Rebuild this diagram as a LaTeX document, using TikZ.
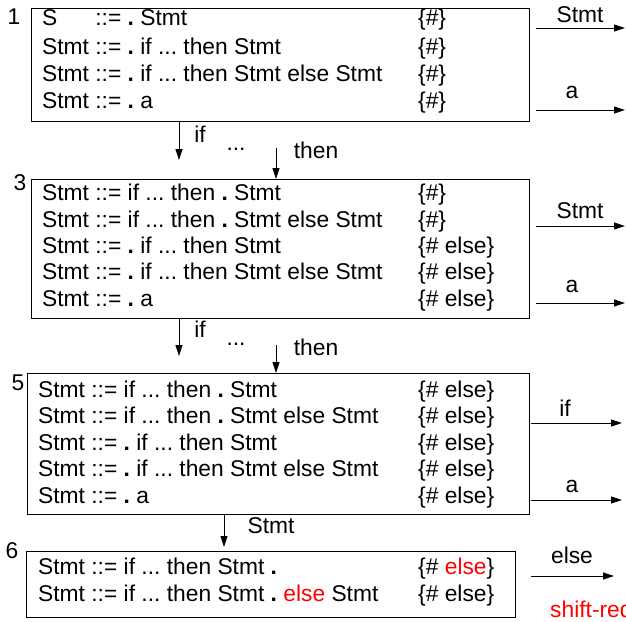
\documentclass[tikz,border=0pt]{standalone}
\usepackage{fontspec}
\setmainfont{Liberation Sans}
\usetikzlibrary{arrows.meta}
\usepackage{calc}
\frenchspacing
\newcommand{\dt}{\textbf{.}}
\newcommand{\Sbox}{\makebox[\widthof{Stmt}][l]{S}}
\begin{document}
\begin{tikzpicture}[x=1pt,y=-1pt,
  font=\fontsize{22.8}{26}\selectfont\frenchspacing,
  box/.style={draw, line width=0.8pt, inner sep=0pt, anchor=north west},
  txt/.style={anchor=base west, inner sep=0pt},
  lbl/.style={anchor=base, inner sep=0pt},
  arr/.style={-{Triangle[length=11pt,width=7pt]}, line width=0.8pt}]
\clip (0,0) rectangle (626,621);
% boxes
\node[box, minimum width=498pt, minimum height=113pt] (b1) at (31,8) {};
\node[box, minimum width=498pt, minimum height=139pt] (b3) at (31,179) {};
\node[box, minimum width=502pt, minimum height=141pt] (b5) at (27,373) {};
\node[box, minimum width=489pt, minimum height=66pt] (b6) at (26,551) {};
% state numbers
\node[lbl] (n1) at (14,24) {1};
\node[lbl] (n3) at (20,190) {3};
\node[lbl] (n5) at (18,390) {5};
\node[lbl] (n6) at (12,558) {6};
% box 1
\node[txt] (r11) at (42,25) {\Sbox{} ::= \dt{} Stmt};
\node[txt] (r12) at (42,54) {Stmt ::= \dt{} if ... then Stmt};
\node[txt] (r13) at (42,81) {Stmt ::= \dt{} if ... then Stmt else Stmt};
\node[txt] (r14) at (42,108) {Stmt ::= \dt{} a};
\node[txt] (l11) at (418,25) {\{\#\}};
\node[txt] (l12) at (418,54) {\{\#\}};
\node[txt] (l13) at (418,81) {\{\#\}};
\node[txt] (l14) at (418,108) {\{\#\}};
% box 3
\node[txt] (r31) at (42,200) {Stmt ::= if ... then \dt{} Stmt};
\node[txt] (r32) at (42,227) {Stmt ::= if ... then \dt{} Stmt else Stmt};
\node[txt] (r33) at (42,253) {Stmt ::= \dt{} if ... then Stmt};
\node[txt] (r34) at (42,279) {Stmt ::= \dt{} if ... then Stmt else Stmt};
\node[txt] (r35) at (42,306) {Stmt ::= \dt{} a};
\node[txt] (l31) at (418,200) {\{\#\}};
\node[txt] (l32) at (418,227) {\{\#\}};
\node[txt] (l33) at (418,253) {\{\# else\}};
\node[txt] (l34) at (418,279) {\{\# else\}};
\node[txt] (l35) at (418,306) {\{\# else\}};
% box 5
\node[txt] (r51) at (38,397) {Stmt ::= if ... then \dt{} Stmt};
\node[txt] (r52) at (38,423) {Stmt ::= if ... then \dt{} Stmt else Stmt};
\node[txt] (r53) at (38,450) {Stmt ::= \dt{} if ... then Stmt};
\node[txt] (r54) at (38,476) {Stmt ::= \dt{} if ... then Stmt else Stmt};
\node[txt] (r55) at (38,503) {Stmt ::= \dt{} a};
\node[txt] (l51) at (418,397) {\{\# else\}};
\node[txt] (l52) at (418,423) {\{\# else\}};
\node[txt] (l53) at (418,450) {\{\# else\}};
\node[txt] (l54) at (418,476) {\{\# else\}};
\node[txt] (l55) at (418,503) {\{\# else\}};
% box 6
\node[txt] (r61) at (38,574) {Stmt ::= if ... then Stmt \dt};
\node[txt] (r62) at (38,601) {Stmt ::= if ... then Stmt \dt{} \textcolor{red}{else} Stmt};
\node[txt] (l61) at (418,574) {\{\# \textcolor{red}{else}\}};
\node[txt] (l62) at (418,601) {\{\# else\}};
% right arrows
\coordinate (e11) at (625,28);
\coordinate (e12) at (625,110);
\coordinate (e31) at (625,226);
\coordinate (e32) at (625,303);
\coordinate (e51) at (622,423);
\coordinate (e52) at (622,500);
\coordinate (e61) at (614,576);
\draw[arr, shorten <=6pt] (b1.east |- e11) -- (e11);
\draw[arr, shorten <=6pt] (b1.east |- e12) -- (e12);
\draw[arr, shorten <=6pt] (b3.east |- e31) -- (e31);
\draw[arr, shorten <=6pt] (b3.east |- e32) -- (e32);
\draw[arr, shorten <=1pt] (b5.east |- e51) -- (e51);
\draw[arr, shorten <=1pt] (b5.east |- e52) -- (e52);
\draw[arr, shorten <=15pt] (b6.east |- e61) -- (e61);
\node[lbl] (a11) at (580,22) {Stmt};
\node[lbl] (a12) at (572,98) {a};
\node[lbl] (a31) at (580,218) {Stmt};
\node[lbl] (a32) at (572,292) {a};
\node[lbl] (a51) at (565,416) {if};
\node[lbl] (a52) at (572,492) {a};
\node[lbl] (a61) at (572,563) {else};
\node[txt, text=red] (sr) at (550,617) {shift-reduce};
% down arrows
\coordinate (d1) at (179,160);
\coordinate (t1) at (276,148);
\draw[arr] (b1.south -| d1) -- (d1);
\draw[arr] (t1) -- (b3.north -| t1);
\node[lbl] (i1) at (200,142) {if};
\node[lbl] (p1) at (236,150) {...};
\node[lbl] (h1) at (316,158) {then};
\coordinate (d2) at (179,356);
\coordinate (t2) at (276,345);
\draw[arr] (b3.south -| d2) -- (d2);
\draw[arr] (t2) -- (b5.north -| t2);
\node[lbl] (i2) at (200,337) {if};
\node[lbl] (p2) at (236,345) {...};
\node[lbl] (h2) at (316,355) {then};
\coordinate (d3) at (224,0);
\draw[arr, shorten >=4pt] (b5.south -| d3) -- (b6.north -| d3);
\node[lbl] (s3) at (271,533) {Stmt};
\end{tikzpicture}
\end{document}
